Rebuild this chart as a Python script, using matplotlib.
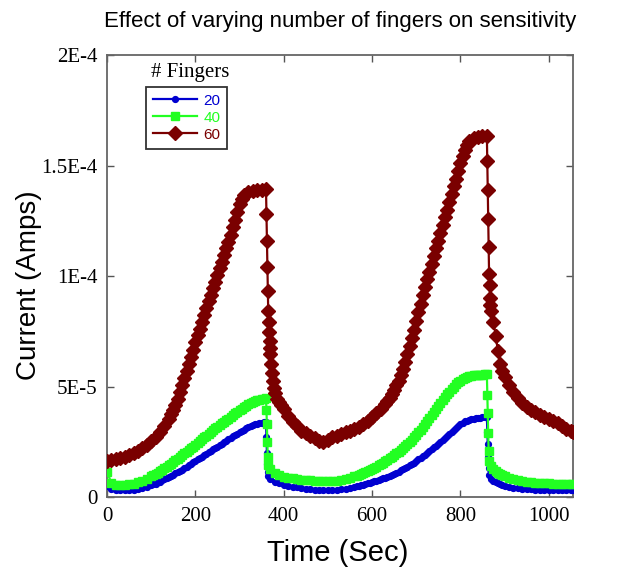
import numpy as np
import matplotlib
matplotlib.use("Agg")
import matplotlib.pyplot as plt
from matplotlib.lines import Line2D

# Time axis (s) for the 20- and 40-finger devices: 5 s sampling on the ramps,
# 1 s through each switch-off drop, 10 s on the flat parts
time_s = (list(range(0, 101, 10)) + list(range(105, 361, 5))
          + [361, 362, 363, 364, 365]
          + list(range(370, 561, 10)) + list(range(565, 861, 5))
          + [861, 862, 863, 864, 865]
          + list(range(870, 901, 5)) + list(range(910, 1051, 10)) + [1055])

# Time axis (s) for the 60-finger device
time_60_s = (list(range(0, 140, 10)) + list(range(140, 311, 5))
             + list(range(320, 361, 10)) + list(range(361, 371, 1))
             + [372, 374, 376, 378, 380, 385, 390, 395, 400]
             + list(range(410, 630, 10)) + list(range(630, 821, 5))
             + list(range(830, 861, 10)) + list(range(861, 869, 1))
             + [870, 875, 880, 885, 890, 895, 900]
             + list(range(910, 1051, 10)) + [1055])

# Measured current, in units of 1E-5 A
current_20 = [
    # 0-100 s
    0.50, 0.36, 0.32, 0.30, 0.30, 0.31, 0.33, 0.36, 0.40, 0.46, 0.53,
    # 105-360 s
    0.57, 0.61, 0.66, 0.70, 0.75, 0.80, 0.85, 0.90, 0.96, 1.01,
    1.07, 1.12, 1.18, 1.24, 1.31, 1.37, 1.44, 1.50, 1.57, 1.63,
    1.70, 1.76, 1.83, 1.89, 1.96, 2.02, 2.09, 2.15, 2.22, 2.28,
    2.35, 2.41, 2.48, 2.54, 2.61, 2.67, 2.74, 2.80, 2.86, 2.92,
    2.98, 3.04, 3.10, 3.15, 3.20, 3.25, 3.29, 3.32, 3.35, 3.37,
    3.39, 3.40,
    # 361-365 s
    2.70, 2.00, 1.50, 1.15, 0.95,
    # 370-560 s
    0.82, 0.70, 0.62, 0.56, 0.51, 0.47, 0.43, 0.40, 0.37, 0.35,
    0.33, 0.32, 0.31, 0.31, 0.32, 0.33, 0.35, 0.38, 0.42, 0.46,
    # 565-860 s
    0.48, 0.51, 0.53, 0.56, 0.59, 0.62, 0.65, 0.68, 0.71, 0.74,
    0.77, 0.81, 0.84, 0.88, 0.92, 0.96, 1.00, 1.05, 1.10, 1.15,
    1.20, 1.26, 1.32, 1.38, 1.44, 1.50, 1.56, 1.63, 1.70, 1.77,
    1.84, 1.92, 2.00, 2.08, 2.16, 2.25, 2.33, 2.42, 2.51, 2.60,
    2.69, 2.78, 2.87, 2.96, 3.05, 3.14, 3.22, 3.30, 3.36, 3.42,
    3.46, 3.50, 3.53, 3.55, 3.57, 3.58, 3.59, 3.60, 3.61, 3.62,
    # 861-865 s
    2.95, 2.40, 1.80, 1.30, 1.00,
    # 870-900 s
    0.82, 0.74, 0.68, 0.63, 0.58, 0.54, 0.51,
    # 910-1055 s
    0.46, 0.42, 0.39, 0.37, 0.35, 0.34, 0.33, 0.32, 0.31, 0.31,
    0.30, 0.30, 0.30, 0.30, 0.30, 0.30,
]

current_40 = [
    # 0-100 s
    1.15, 0.62, 0.55, 0.53, 0.54, 0.57, 0.61, 0.66, 0.74, 0.83, 0.93,
    # 105-360 s
    0.98, 1.04, 1.10, 1.16, 1.22, 1.29, 1.36, 1.43, 1.50, 1.58,
    1.66, 1.74, 1.82, 1.90, 1.97, 2.05, 2.12, 2.20, 2.28, 2.37,
    2.45, 2.53, 2.61, 2.70, 2.78, 2.86, 2.94, 3.02, 3.10, 3.18,
    3.25, 3.33, 3.40, 3.48, 3.55, 3.63, 3.70, 3.78, 3.85, 3.92,
    3.99, 4.06, 4.13, 4.20, 4.25, 4.30, 4.34, 4.38, 4.41, 4.43,
    4.45, 4.46,
    # 361-365 s
    3.95, 3.30, 2.50, 1.80, 1.45,
    # 370-560 s
    1.25, 1.08, 0.98, 0.92, 0.87, 0.84, 0.81, 0.79, 0.77, 0.75,
    0.73, 0.72, 0.71, 0.71, 0.72, 0.73, 0.76, 0.80, 0.86, 0.93,
    # 565-860 s
    0.96, 1.00, 1.04, 1.08, 1.12, 1.17, 1.22, 1.27, 1.32, 1.38,
    1.44, 1.50, 1.56, 1.62, 1.68, 1.75, 1.82, 1.90, 1.97, 2.05,
    2.13, 2.22, 2.31, 2.40, 2.50, 2.60, 2.70, 2.80, 2.92, 3.04,
    3.17, 3.30, 3.44, 3.58, 3.72, 3.86, 4.00, 4.13, 4.26, 4.39,
    4.52, 4.65, 4.77, 4.89, 5.00, 5.10, 5.19, 5.27, 5.34, 5.40,
    5.44, 5.47, 5.49, 5.50, 5.51, 5.52, 5.53, 5.54, 5.55, 5.56,
    # 861-865 s
    4.60, 3.80, 2.90, 2.10, 1.65,
    # 870-900 s
    1.40, 1.28, 1.18, 1.10, 1.03, 0.98, 0.93,
    # 910-1055 s
    0.86, 0.80, 0.76, 0.72, 0.69, 0.67, 0.65, 0.64, 0.63, 0.62,
    0.61, 0.60, 0.60, 0.59, 0.59, 0.59,
]

current_60 = [
    # 0-130 s
    1.62, 1.66, 1.70, 1.76, 1.82, 1.90, 1.98, 2.08, 2.20, 2.35,
    2.52, 2.70, 2.95, 3.22,
    # 140-310 s
    3.55, 3.74, 3.95, 4.18, 4.45, 4.74, 5.05, 5.37, 5.70, 6.02,
    6.35, 6.67, 7.00, 7.31, 7.62, 7.93, 8.25, 8.55, 8.85, 9.15,
    9.45, 9.75, 10.05, 10.35, 10.65, 10.95, 11.25, 11.55, 11.85, 12.20,
    12.55, 12.90, 13.25, 13.50, 13.65,
    # 320-360 s
    13.80, 13.85, 13.88, 13.90, 13.92,
    # 361-370 s
    12.80, 11.60, 10.40, 9.30, 8.40, 7.90, 7.45, 7.05, 6.75, 6.45,
    # 372-400 s
    6.00, 5.60, 5.25, 4.95, 4.70, 4.45, 4.30, 4.15, 4.00,
    # 410-620 s
    3.65, 3.40, 3.20, 3.00, 2.90, 2.78, 2.66, 2.55, 2.48, 2.60,
    2.70, 2.78, 2.86, 2.93, 3.00, 3.08, 3.18, 3.30, 3.45, 3.60,
    3.80, 4.00,
    # 630-820 s
    4.20, 4.35, 4.50, 4.67, 4.85, 5.05, 5.25, 5.50, 5.80, 6.10,
    6.45, 6.82, 7.20, 7.57, 7.95, 8.35, 8.75, 9.12, 9.50, 9.85,
    10.20, 10.55, 10.90, 11.25, 11.60, 11.95, 12.30, 12.65, 13.00, 13.35,
    13.70, 14.05, 14.40, 14.75, 15.10, 15.42, 15.70, 15.92, 16.10,
    # 830-860 s
    16.25, 16.30, 16.32, 16.35,
    # 861-868 s
    15.20, 13.90, 12.60, 11.30, 10.10, 9.60, 9.00, 8.70,
    # 870-900 s
    8.40, 7.90, 7.30, 6.60, 6.00, 5.70, 5.45,
    # 910-1055 s
    5.05, 4.75, 4.50, 4.25, 4.05, 3.95, 3.83, 3.72, 3.62, 3.52,
    3.42, 3.33, 3.20, 3.08, 2.98, 2.95,
]

finger_labels = ["20", "40", "60"]
series_colors = ["#0000d0", "#22ff22", "#7a0000"]
series_markers = ["o", "s", "D"]
series_msizes = [4.2, 5.4, 6.8]

y_ticks = [0, 5e-5, 1e-4, 1.5e-4, 2e-4]
y_tick_labels = ["0", "5E-5", "1E-4", "1.5E-4", "2E-4"]
x_ticks = [0, 200, 400, 600, 800, 1000]

W, H = 639, 571
fig = plt.figure(figsize=(W / 100, H / 100), dpi=100)
ax = fig.add_axes([107 / W, 1 - 497 / H, (573 - 107) / W, (497 - 55) / H])

series = [(time_s, current_20), (time_s, current_40), (time_60_s, current_60)]
handles = []
for (tt, vals), col, mk, ms in zip(series, series_colors,
                                   series_markers, series_msizes):
    amps = np.array(vals) * 1e-5
    ax.plot(np.array(tt, dtype=float), amps, color=col, lw=1.6, marker=mk,
            ms=ms, markeredgecolor=col, markerfacecolor=col, zorder=3)
    handles.append(Line2D([], [], color=col, lw=1.6, marker=mk, ms=ms,
                          markeredgecolor=col, markerfacecolor=col))

ax.set_xlim(0, 1055)
ax.set_ylim(0, 2e-4)
ax.set_xticks(x_ticks)
ax.set_xticklabels([str(v) for v in x_ticks])
ax.set_yticks(y_ticks)
ax.set_yticklabels(y_tick_labels)

serif = ["Liberation Serif", "DejaVu Serif"]
sans = ["Liberation Sans", "DejaVu Sans"]
for lbl in ax.get_xticklabels() + ax.get_yticklabels():
    lbl.set_fontfamily(serif)
    lbl.set_fontsize(15)

ax.tick_params(direction="in", length=5, width=1.0, color="#555555",
               top=True, right=True, pad=7)
for sp in ax.spines.values():
    sp.set_color("#666666")
    sp.set_linewidth(1.3)

leg = ax.legend(handles, finger_labels, loc="upper left",
                bbox_to_anchor=(0.084, 0.928), frameon=True, fancybox=False,
                prop={"family": sans, "size": 11}, handlelength=2.9,
                handletextpad=0.4, labelspacing=0.2, borderpad=0.45,
                borderaxespad=0.0)
leg.get_frame().set_edgecolor("black")
leg.get_frame().set_linewidth(1.3)
for txt, col in zip(leg.get_texts(), series_colors):
    txt.set_color(col)

fig.text(190 / W, 1 - 73 / H, "# Fingers", family=serif, fontsize=15,
         ha="center", va="center")

fig.text(340 / W, 1 - 21 / H, "Effect of varying number of fingers on sensitivity",
         family=sans, fontsize=16, ha="center", va="center")
fig.text(338 / W, 1 - 553 / H, "Time (Sec)", family=sans, fontsize=21,
         ha="center", va="center")
fig.text(29 / W, 1 - 285 / H, "Current (Amps)", family=sans, fontsize=20,
         ha="center", va="center", rotation=90)

fig.savefig("out.png", dpi=100)
